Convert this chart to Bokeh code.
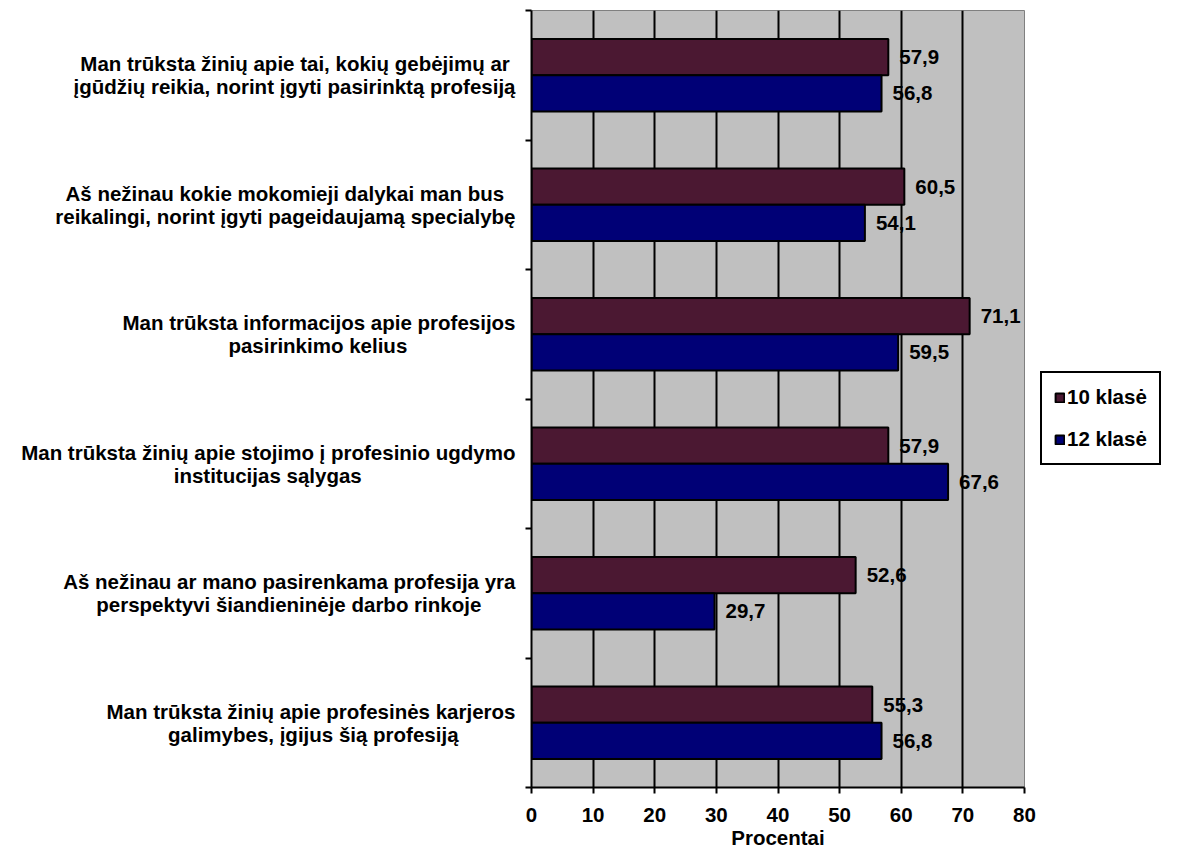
from bokeh.plotting import figure
from bokeh.models import (ColumnDataSource, FixedTicker, Legend, LegendItem, Range1d)
from bokeh.core.properties import value
from bokeh.embed import file_html
from bokeh.resources import INLINE

categories = [
    "Man trūksta žinių apie tai, kokių gebėjimų ar\nįgūdžių reikia, norint įgyti pasirinktą profesiją",
    "Aš nežinau kokie mokomieji dalykai man bus\nreikalingi, norint įgyti pageidaujamą specialybę",
    "Man trūksta informacijos apie profesijos\npasirinkimo kelius",
    "Man trūksta žinių apie stojimo į profesinio ugdymo\ninstitucijas sąlygas",
    "Aš nežinau ar mano pasirenkama profesija yra\nperspektyvi šiandieninėje darbo rinkoje",
    "Man trūksta žinių apie profesinės karjeros\ngalimybes, įgijus šią profesiją",
]
series_names = ["10 klasė", "12 klasė"]
values_10 = [57.9, 60.5, 71.1, 57.9, 52.6, 55.3]
values_12 = [56.8, 54.1, 59.5, 67.6, 29.7, 56.8]
x_ticks = [0, 10, 20, 30, 40, 50, 60, 70, 80]

FONT = "Liberation Sans"
FS = "20.5px"
C10 = "#4B1832"
C12 = "#000076"

# Liberation Sans Bold (Arial Bold metrics) advance widths, per 1000 em,
# used to centre the lines of each right-aligned category label block.
W = {" ": 278, "\u00a0": 278, ",": 278, "A": 722, "M": 833,
     "a": 556, "b": 611, "c": 556, "d": 611, "e": 556, "f": 333, "g": 611,
     "h": 611, "i": 278, "j": 278, "k": 556, "l": 278, "m": 889, "n": 611,
     "o": 611, "p": 611, "r": 389, "s": 556, "t": 333, "u": 611, "v": 556,
     "y": 556, "z": 500, "ū": 611, "ž": 500, "ų": 611, "į": 278, "ė": 556,
     "ą": 556, "š": 556, "ę": 556}


def text_w(s):
    return sum(W.get(ch, 556) for ch in s)


def centre_block(label):
    lines = label.split("\n")
    wmax = max(text_w(l) for l in lines)
    out = []
    for l in lines:
        pad = round((wmax - text_w(l)) / 2 / W["\u00a0"])
        out.append(l + "\u00a0" * pad)
    return "\n".join(out)


n = len(categories)
centers = [n - i - 0.5 for i in range(n)]
bar_h = 0.28

src10 = ColumnDataSource(dict(
    y=[c + bar_h / 2 for c in centers], v=values_10,
    lab=[f"{v:.1f}".replace(".", ",") for v in values_10]))
src12 = ColumnDataSource(dict(
    y=[c - bar_h / 2 for c in centers], v=values_12,
    lab=[f"{v:.1f}".replace(".", ",") for v in values_12]))

p = figure(frame_width=493, frame_height=777, output_backend="svg", toolbar_location=None,
           x_range=Range1d(0, 80), y_range=Range1d(0, n),
           min_border_left=531, min_border_right=0, min_border_top=10, min_border_bottom=0)

p.background_fill_color = "#C0C0C0"
p.border_fill_color = "white"
p.outline_line_color = "#808080"
p.outline_line_width = 1

r10 = p.hbar(y="y", right="v", left=0, height=bar_h, source=src10,
             fill_color=C10, line_color="black", line_width=2)
r12 = p.hbar(y="y", right="v", left=0, height=bar_h, source=src12,
             fill_color=C12, line_color="black", line_width=2)

for s in (src10, src12):
    p.text(x="v", y="y", text="lab", source=s, x_offset=11,
           text_align="left", text_baseline="middle",
           text_font=value(FONT), text_font_size=value(FS), text_font_style="bold",
           text_color="black")

# grid
p.xgrid.ticker = FixedTicker(ticks=x_ticks[1:-1])
p.xgrid.grid_line_color = "black"
p.xgrid.grid_line_width = 2
p.xgrid.level = "underlay"
p.ygrid.grid_line_color = None

# x axis
xa = p.xaxis[0]
xa.ticker = FixedTicker(ticks=x_ticks)
xa.axis_label = "Procentai"
xa.axis_label_text_font = FONT
xa.axis_label_text_font_size = FS
xa.axis_label_text_font_style = "bold"
xa.axis_label_text_color = "black"
xa.axis_label_standoff = 1
xa.major_label_text_font = FONT
xa.major_label_text_font_size = FS
xa.major_label_text_font_style = "bold"
xa.major_label_text_color = "black"
xa.major_label_standoff = 14
xa.axis_line_width = 2
xa.axis_line_color = "black"
xa.major_tick_out = 6
xa.major_tick_in = 0
xa.major_tick_line_width = 2
xa.minor_tick_line_color = None

# y axis
ya = p.yaxis[0]
ya.ticker = FixedTicker(ticks=centers, minor_ticks=list(range(n + 1)))
ya.major_label_overrides = {c: centre_block(categories[i]) for i, c in enumerate(centers)}
ya.major_label_text_font = FONT
ya.major_label_text_font_size = FS
ya.major_label_text_font_style = "bold"
ya.major_label_text_color = "black"
ya.major_label_text_line_height = 1.0
ya.major_label_standoff = 10
ya.major_tick_out = 0
ya.major_tick_in = 0
ya.major_tick_line_color = None
ya.minor_tick_out = 6
ya.minor_tick_in = 0
ya.minor_tick_line_width = 2
ya.minor_tick_line_color = "black"
ya.axis_line_width = 2
ya.axis_line_color = "black"

legend = Legend(items=[LegendItem(label=series_names[0], renderers=[r10]),
                       LegendItem(label=series_names[1], renderers=[r12])],
                location=(16, 322))
legend.label_text_font = FONT
legend.label_text_font_size = FS
legend.label_text_font_style = "bold"
legend.label_text_color = "black"
legend.glyph_width = 11
legend.glyph_height = 11
legend.label_height = 22
legend.label_standoff = 2
legend.spacing = 18
legend.padding = 12
legend.margin = 16
legend.border_line_color = "black"
legend.border_line_alpha = 1
legend.border_line_width = 2
legend.background_fill_color = "white"
legend.background_fill_alpha = 1
p.add_layout(legend, "right")

open("out.html", "w").write(file_html(p, INLINE))
